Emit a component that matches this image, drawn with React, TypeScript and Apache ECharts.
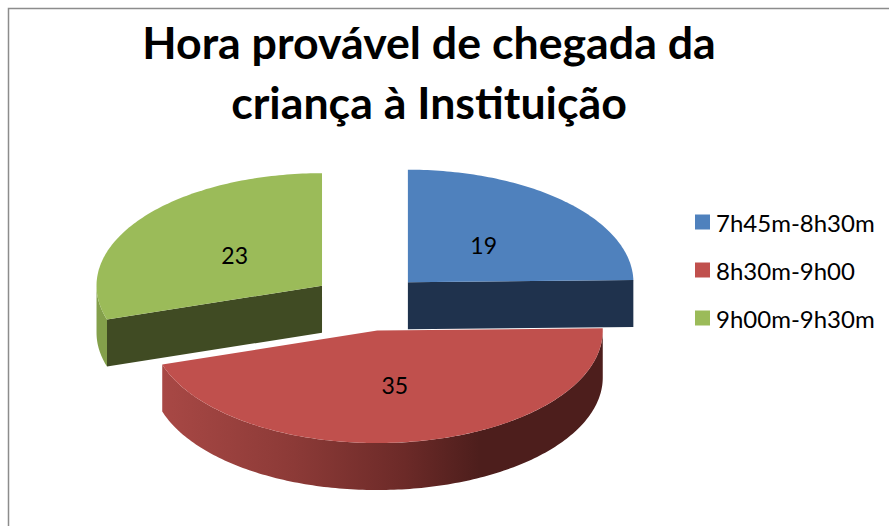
import React, { useEffect, useRef } from "react";
import * as echarts from "echarts";

const titleText = "Hora provável de chegada da\ncriança à Instituição";
const categories = ["7h45m-8h30m", "8h30m-9h00", "9h00m-9h30m"];
const values = [19, 35, 23];
const topColors = ["#4f81bd", "#c0504d", "#9bbb59"];
const cutColors = ["#1f324d", "#4d1e1c", "#404b23"];
const wallColors = ["#3f6797", "#4d1e1c", "#84a04b"];

const W = 889;
const H = 526;
const center = [368, 302.5];
const rx = 225.5;
const ry = 112.5;
const depth = 47;
const explode = 57;

const total = values.reduce((a, b) => a + b, 0);
const deg = Math.PI / 180;

function sliceAngles(i: number) {
  let before = 0;
  for (let k = 0; k < i; k++) before += values[k];
  return [(before / total) * 360, ((before + values[i]) / total) * 360];
}

function pt(c: number[], a: number, k = 1, dz = 0) {
  return [c[0] + rx * k * Math.sin(a * deg), c[1] - ry * k * Math.cos(a * deg) + dz];
}

function arc(c: number[], a0: number, a1: number, dz = 0) {
  const n = Math.max(2, Math.ceil(Math.abs(a1 - a0)));
  const out: number[][] = [];
  for (let i = 0; i <= n; i++) out.push(pt(c, a0 + ((a1 - a0) * i) / n, 1, dz));
  return out;
}

function renderSlice(i: number, value: number) {
  const [a0, a1] = sliceAngles(i);
  const mid = (a0 + a1) / 2;
  const c = [
    center[0] + explode * Math.sin(mid * deg),
    center[1] - explode * (ry / rx) * Math.cos(mid * deg),
  ];
  const children: any[] = [];

  // outer wall: the part of the rim that faces the viewer (90..270 degrees)
  const w0 = Math.max(a0, 90);
  const w1 = Math.min(a1, 270);
  if (w1 > w0) {
    const wallPts = [...arc(c, w0, w1), ...arc(c, w1, w0, depth)];
    const isRed = i === 1;
    children.push({
      type: "polygon",
      shape: { points: wallPts },
      style: {
        fill: isRed
          ? new echarts.graphic.LinearGradient(
              0,
              0,
              1,
              0,
              [
                { offset: 0, color: "#a84845" },
                { offset: 0.3, color: "#8c3a37" },
                { offset: 0.55, color: "#6c2a28" },
                { offset: 0.72, color: "#4d1e1c" },
                { offset: 1, color: "#4d1e1c" },
              ],
              false
            )
          : wallColors[i],
      },
    });
  }

  // cut faces that look towards the viewer
  const cutFace = (a: number) => {
    const p = pt(c, a);
    return {
      type: "polygon",
      shape: { points: [c, p, [p[0], p[1] + depth], [c[0], c[1] + depth]] },
      style: { fill: cutColors[i] },
    };
  };
  if (i === 0) children.push(cutFace(a1));
  if (i === 2) children.push(cutFace(a0));

  // top face
  children.push({
    type: "polygon",
    shape: { points: [c, ...arc(c, a0, a1)] },
    style: { fill: topColors[i] },
  });

  // data label
  const lp = pt(c, mid, 0.48);
  children.push({
    type: "text",
    x: lp[0],
    y: lp[1] + 1,
    style: {
      text: String(value),
      fill: "#000000",
      font: "23px Lato",
      align: "center",
      verticalAlign: "middle",
    },
  });
  return { type: "group", children };
}

// the order of drawing: the red slice is in front of the two others
const drawOrder = [2, 0, 1];

export default function App() {
  const ref = useRef<HTMLDivElement>(null);
  useEffect(() => {
    const chart = echarts.init(ref.current!, undefined, { renderer: "svg", width: W, height: H });
    chart.setOption({
      animation: false,
      backgroundColor: "#ffffff",
      title: {
        text: titleText,
        left: 424,
        top: 7,
        textAlign: "center",
        textStyle: {
          fontFamily: "Lato",
          fontWeight: "bold",
          fontSize: 44.7,
          lineHeight: 60,
          color: "#000000",
        },
      },
      legend: {
        orient: "vertical",
        left: 690,
        top: 204,
        itemWidth: 15,
        itemHeight: 15,
        itemGap: 22,
        icon: "rect",
        data: categories,
        textStyle: { fontFamily: "Lato", fontSize: 24, color: "#000000", padding: [0, 0, 0, 1], lineHeight: 26 },
      },
      graphic: [
        {
          type: "rect",
          silent: true,
          z: -1,
          shape: { x: 8.5, y: 8.5, width: 1000, height: 1000 },
          style: { fill: "none", stroke: "#8c8c8c", lineWidth: 1.5 },
        },
      ],
      series: drawOrder.map((i) => ({
        type: "custom",
        name: categories[i],
        coordinateSystem: "none",
        z: 2,
        itemStyle: { color: topColors[i] },
        data: [[values[i]]],
        renderItem: (_p: any, api: any) => renderSlice(i, api.value(0)),
      })),
    });
    return () => chart.dispose();
  }, []);
  return (
    <div
      ref={ref}
      style={{ position: "fixed", left: 0, top: 0, width: W, height: H, background: "#fff" }}
    />
  );
}
